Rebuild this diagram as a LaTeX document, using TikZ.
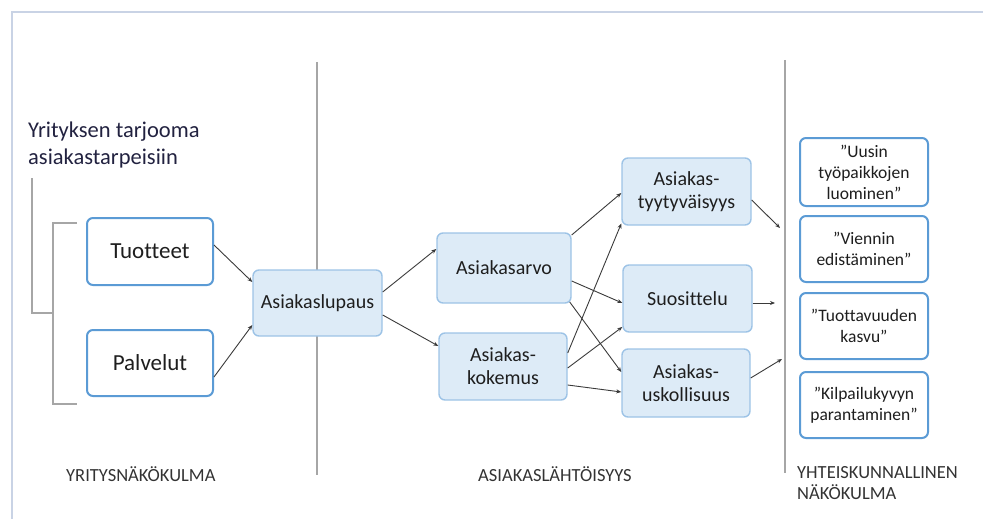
\documentclass[tikz,border=0pt]{standalone}
\usepackage{fontspec}
\setmainfont{Carlito}[Ligatures={NoCommon}]
\usetikzlibrary{arrows.meta}
\definecolor{framec}{HTML}{C9D3E5}
\definecolor{divc}{HTML}{A6A6A6}
\definecolor{boxblue}{HTML}{5B9BD5}
\definecolor{lightb}{HTML}{DDEBF7}
\definecolor{lightbd}{HTML}{9DC3E6}
\definecolor{txt}{HTML}{1E1E1E}
\definecolor{connc}{HTML}{3A3A3A}
\definecolor{headc}{HTML}{222240}
\definecolor{lblc}{HTML}{333333}
\begin{document}
\begin{tikzpicture}[x=1pt,y=-1pt,
  wbox/.style={draw=boxblue, line width=2pt, fill=white, rounded corners=6pt, text=txt, align=center, inner sep=0pt},
  bbox/.style={draw=lightbd, line width=1.4pt, fill=lightb, rounded corners=6pt, text=txt, align=center, inner sep=0pt, font=\fontsize{20}{23}\selectfont},
  rbox/.style={wbox, minimum width=128pt, minimum height=66pt, font=\fontsize{17.5}{21}\selectfont},
  conn/.style={draw=connc, line width=0.9pt, -{Stealth[length=5pt,width=4pt]}},
  lbl/.style={text=lblc, font=\fontsize{18.5}{21}\selectfont, inner sep=0pt, align=left},
  divider/.style={draw=divc, line width=1.5pt},
  brack/.style={draw=divc, line width=1.3pt},
]
\useasboundingbox (0,0) rectangle (983,519);
% frame
\draw[framec, line width=2.5pt] (12,519) -- (12,12) -- (983,12);
% dividers
\draw[divider] (317,62) -- (317,475);
\draw[divider] (785,60) -- (785,473);
% header
\node[anchor=north west, inner sep=0pt, align=left, text=headc, font=\fontsize{22.5}{27}\selectfont] (head) at (28,122) {Yrityksen tarjooma\\asiakastarpeisiin};
% brackets
\draw[brack] (32,178) -- (32,313) -- (53,313);
\draw[brack] (77,223) -- (53,223) -- (53,404) -- (77,404);
% left boxes
\node[wbox, minimum width=126pt, minimum height=67pt, font=\fontsize{23}{27}\selectfont] (tuot) at (150,251.5) {Tuotteet};
\node[wbox, minimum width=126pt, minimum height=66pt, font=\fontsize{23}{27}\selectfont] (palv) at (150,363) {Palvelut};
% middle boxes
\node[bbox, minimum width=129pt, minimum height=66pt] (lupa) at (317.5,303) {Asiakaslupaus};
\node[bbox, minimum width=134pt, minimum height=70pt] (arvo) at (504,268) {Asiakasarvo};
\node[bbox, minimum width=128pt, minimum height=67pt] (koke) at (503,366.5) {Asiakas-\\kokemus};
\node[bbox, minimum width=129pt, minimum height=67pt] (tyyt) at (686.5,191.5) {Asiakas-\\tyytyväisyys};
\node[bbox, minimum width=129pt, minimum height=67pt] (suos) at (687.5,298.5) {Suosittelu};
\node[bbox, minimum width=128pt, minimum height=68pt] (usko) at (686,383) {Asiakas-\\uskollisuus};
% right boxes
\node[rbox, minimum height=68pt] (r1) at (864,172) {”Uusin\\työpaikkojen\\luominen”};
\node[rbox] (r2) at (864,249) {”Viennin\\edistäminen”};
\node[rbox] (r3) at (864,326) {”Tuottavuuden\\kasvu”};
\node[rbox] (r4) at (864,405) {”Kilpailukyvyn\\parantaminen”};
% free ends
\coordinate (e1) at (780,228);
\coordinate (e2) at (775,303);
\coordinate (e3) at (782,359);
% connectors
\draw[conn] ([yshift=6.5pt]tuot.east) -- ([yshift=21pt]lupa.west);
\draw[conn] ([yshift=-14pt]palv.east) -- ([yshift=-22pt]lupa.west);
\draw[conn] ([yshift=11pt]lupa.east) -- ([yshift=19pt]arvo.west);
\draw[conn] ([yshift=-12pt]lupa.east) -- ([yshift=20.5pt]koke.west);
\draw[conn] ([yshift=33pt]arvo.east) -- ([yshift=-1.5pt]tyyt.west);
\draw[conn] ([yshift=-13pt]arvo.east) -- ([yshift=-4.5pt]suos.west);
\draw[conn] ([yshift=-34pt,xshift=-2pt]arvo.east) -- ([yshift=11pt]usko.west);
\draw[conn] ([yshift=13.5pt]koke.east) -- ([yshift=-32pt]tyyt.west);
\draw[conn] ([yshift=-1.5pt]koke.east) -- ([yshift=-28.5pt]suos.west);
\draw[conn] ([yshift=-18.5pt]koke.east) -- ([yshift=-9pt]usko.west);
\draw[conn] ([yshift=-8.5pt]tyyt.east) -- (e1);
\draw[conn] ([yshift=-4.5pt]suos.east) -- (e2);
\draw[conn] ([yshift=5pt]usko.east) -- (e3);
% bottom labels
\node[lbl, anchor=base west] (l1) at (66,481) {YRITYSNÄKÖKULMA};
\node[lbl, anchor=base west] (l2) at (478,481) {ASIAKASLÄHTÖISYYS};
\node[lbl, anchor=north west] (l3) at (797,466) {YHTEISKUNNALLINEN\\NÄKÖKULMA};
\end{tikzpicture}
\end{document}
